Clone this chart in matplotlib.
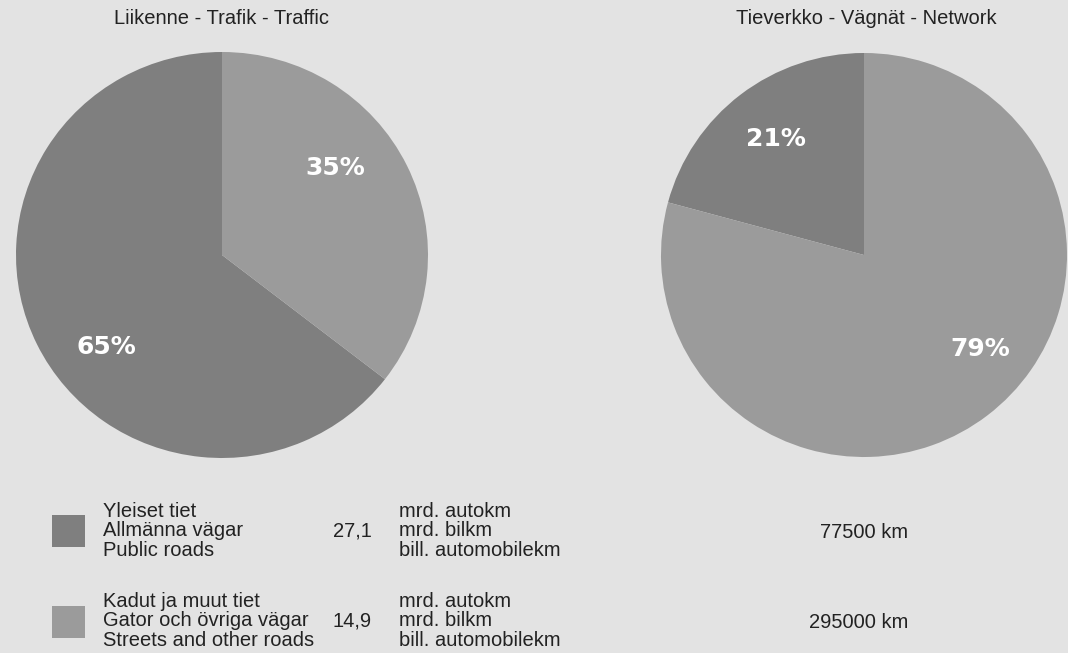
import matplotlib
matplotlib.use("Agg")
import matplotlib.pyplot as plt
from matplotlib.patches import Rectangle
import numpy as np

# data
road_types = ["Yleiset tiet\nAllmänna vägar\nPublic roads",
              "Kadut ja muut tiet\nGator och övriga vägar\nStreets and other roads"]
traffic = [27.1, 14.9]          # mrd. autokm
network = [77500, 295000]       # km
traffic_labels = ["27,1", "14,9"]
network_labels = ["77500 km", "295000 km"]
unit_text = "mrd. autokm\nmrd. bilkm\nbill. automobilekm"
titles = ["Liikenne - Trafik - Traffic", "Tieverkko - Vägnät - Network"]

colors = ["#7f7f7f", "#9b9b9b"]
bg = "#e3e3e3"
txt = "#222222"

W, H = 1068, 653
fig = plt.figure(figsize=(W / 100, H / 100), dpi=100, facecolor=bg)


def fx(x):
    return x / W


def fy(y):
    return 1 - y / H


def pie_axes(cx, cy, rx, ry):
    return fig.add_axes([fx(cx - rx), fy(cy + ry), 2 * rx / W, 2 * ry / H])


# where the percentage labels sit: (angle deg, radius)
label_pos = [[(219, 0.72), (38, 0.70)], [(127, 0.72), (-39, 0.74)]]

for i, (vals, geo, title_x) in enumerate([
        (traffic, (222, 255, 206, 203), 222),
        (network, (864, 255, 203, 202), 866)]):
    ax = pie_axes(*geo)
    wedges, _, autotexts = ax.pie(vals, colors=colors, startangle=90,
                                  counterclock=True, autopct="%.0f%%",
                                  pctdistance=0.7,
                                  wedgeprops=dict(linewidth=0))
    ax.set_aspect("auto")
    ax.set_xlim(-1, 1)
    ax.set_ylim(-1, 1)
    for t, (ang, r) in zip(autotexts, label_pos[i]):
        a = np.deg2rad(ang)
        t.set_position((r * np.cos(a), r * np.sin(a)))
        t.set_color("white")
        t.set_fontweight("bold")
        t.set_fontsize(18)
        t.set_fontfamily("DejaVu Sans")
        t.set_ha("center")
        t.set_va("center")
    fig.text(fx(title_x), fy(19), titles[i], ha="center", va="center",
             fontsize=14.5, color=txt, family="Liberation Sans")

# legend block
fs = 14.5
step = 19.5
for k, top in enumerate([515, 606]):
    fig.patches.append(Rectangle((fx(52), fy(top + 32)), 33 / W, 32 / H,
                                 transform=fig.transFigure,
                                 facecolor=colors[k], edgecolor="none"))
    base = 517 + k * 90
    for j, line in enumerate(road_types[k].split("\n")):
        fig.text(fx(103), fy(base + step * j), line, ha="left", va="baseline",
                 fontsize=fs, color=txt, family="Liberation Sans")
    fig.text(fx(372), fy(base + step), traffic_labels[k], ha="right",
             va="baseline", fontsize=fs, color=txt, family="Liberation Sans")
    for j, line in enumerate(unit_text.split("\n")):
        fig.text(fx(399), fy(base + step * j), line, ha="left", va="baseline",
                 fontsize=fs, color=txt, family="Liberation Sans")
    fig.text(fx(908), fy(base + step + 1), network_labels[k], ha="right",
             va="baseline", fontsize=fs, color=txt, family="Liberation Sans")

fig.savefig("out.png", dpi=100, facecolor=bg)
